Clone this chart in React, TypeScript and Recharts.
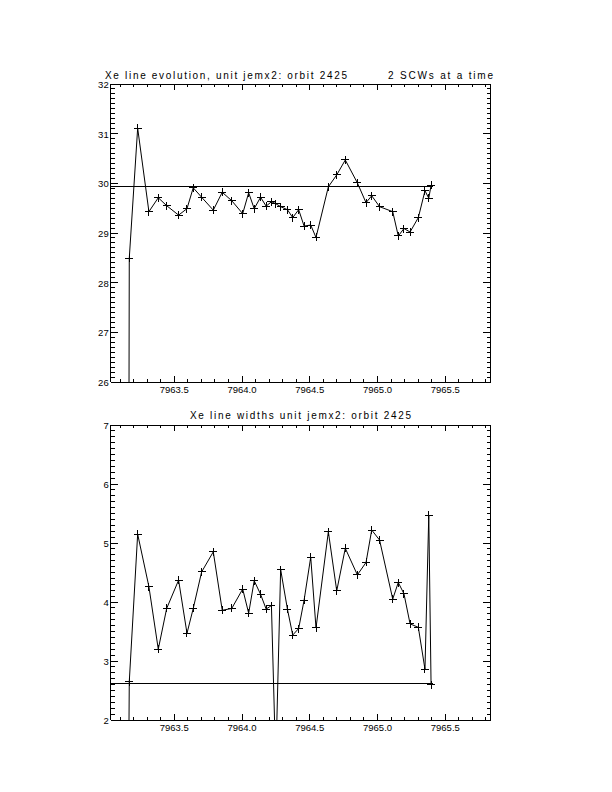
import { Line, LineChart, ReferenceLine, XAxis, YAxis } from 'recharts'

// observation time (IJD) of each pair of science windows
const times = [
  7963.162, 7963.168, 7963.23, 7963.313, 7963.382, 7963.444, 7963.532, 7963.594, 7963.64, 7963.702,
  7963.788, 7963.854, 7963.924, 7964.005, 7964.049, 7964.09, 7964.137, 7964.178, 7964.217, 7964.249,
  7964.285, 7964.335, 7964.374, 7964.418, 7964.458, 7964.507, 7964.546, 7964.637, 7964.699, 7964.762,
  7964.851, 7964.915, 7964.957, 7965.015, 7965.112, 7965.153, 7965.195, 7965.24, 7965.301, 7965.35,
  7965.378, 7965.395,
]

// Xe line position (channel)
const energies = [
  20.0, 28.49, 31.11, 29.43, 29.71, 29.55, 29.36, 29.49, 29.91, 29.72,
  29.46, 29.82, 29.65, 29.39, 29.81, 29.49, 29.72, 29.54, 29.63, 29.59,
  29.53, 29.47, 29.31, 29.47, 29.14, 29.16, 28.91, 29.93, 30.17, 30.47,
  30.01, 29.61, 29.75, 29.53, 29.43, 28.94, 29.09, 29.02, 29.31, 29.85,
  29.7, 29.96,
]

// Xe line width
const widths = [
  0.5, 2.65, 5.15, 4.26, 3.2, 3.89, 4.37, 3.47, 3.89, 4.51,
  4.85, 3.86, 3.89, 4.22, 3.81, 4.36, 4.13, 3.88, 3.94, 1.24,
  4.55, 3.88, 3.44, 3.55, 4.03, 4.76, 3.56, 5.19, 4.19, 4.91,
  4.46, 4.67, 5.22, 5.05, 4.05, 4.33, 4.14, 3.63, 3.57, 2.86,
  5.47, 2.6,
]

const meanEnergy = 29.94
const meanWidth = 2.615
const meanEnd = 7965.41

const xDomain: [number, number] = [7963.031, 7965.835]
const xMajor = [7963.5, 7964.0, 7964.5, 7965.0, 7965.5]
const energyMajor = [26, 27, 28, 29, 30, 31, 32]
const widthMajor = [2, 3, 4, 5, 6, 7]

const topTitle = 'Xe line evolution, unit jemx2: orbit 2425'
const topNote = '2 SCWs at a time'
const bottomTitle = 'Xe line widths unit jemx2: orbit 2425'

const data = times.map((t, i) => ({ t, energy: energies[i], width: widths[i] }))

const FONT = '"Liberation Sans", Arial, sans-serif'
// axes need a size of at least 1px or recharts skips them
const AXIS = 1

function steps(from: number, to: number, step: number) {
  const n = Math.round((to - from) / step)
  return Array.from({ length: n + 1 }, (_, i) => Number((from + i * step).toFixed(4)))
}

const isMajor = (v: number, majors: number[]) => majors.some((m) => Math.abs(m - v) < 1e-6)

type Side = 'bottom' | 'top' | 'left' | 'right'

function makeTick(side: Side, majors: number[], majorLen: number, minorLen: number, format?: (v: number) => string) {
  return (props: any) => {
    const { x, y, payload, index } = props
    const v = payload.value as number
    const major = isMajor(v, majors)
    const len = major ? majorLen : minorLen
    let x2 = x
    let y2 = y
    if (side === 'bottom') y2 = y - len
    if (side === 'top') y2 = y + len
    if (side === 'left') x2 = x + len
    if (side === 'right') x2 = x - len
    return (
      <g key={`${side}-${index}`}>
        <line x1={x} y1={y} x2={x2} y2={y2} stroke="#000" strokeWidth={1} shapeRendering="crispEdges" />
        {format && major && side === 'bottom' && (
          <text x={x} y={y + 10.5} textAnchor="middle" fontSize={9.5} fontFamily={FONT} fill="#000">
            {format(v)}
          </text>
        )}
        {format && major && side === 'left' && (
          <text x={x - 2} y={y + 4} textAnchor="end" fontSize={9.5} fontFamily={FONT} fill="#000">
            {format(v)}
          </text>
        )}
      </g>
    )
  }
}

type PanelProps = {
  top: number
  plotTop: number
  plotBottom: number
  dataKey: 'energy' | 'width'
  yDomain: [number, number]
  yMajor: number[]
  mean: number
}

const PLOT_LEFT = 110.7
const PLOT_RIGHT = 490.7
const PANEL_H = 396

function Panel({ top, plotTop, plotBottom, dataKey, yDomain, yMajor, mean }: PanelProps) {
  const xTicks = steps(7963.1, 7965.8, 0.1)
  const yTicks = steps(yDomain[0], yDomain[1], 0.1)
  const axisLine = { stroke: '#000', strokeWidth: 1, shapeRendering: 'crispEdges' }
  const margin = {
    top: plotTop - top - AXIS,
    bottom: top + PANEL_H - plotBottom - AXIS,
    left: PLOT_LEFT - AXIS,
    right: 612 - PLOT_RIGHT - AXIS,
  }
  return (
    <div style={{ position: 'absolute', left: 0, top }}>
      <LineChart width={612} height={PANEL_H} data={data} margin={margin}>
        <XAxis
          xAxisId="b"
          orientation="bottom"
          type="number"
          dataKey="t"
          domain={xDomain}
          allowDataOverflow
          ticks={xTicks}
          interval={0}
          height={AXIS}
          tickSize={0}
          tickMargin={0}
          tickLine={false}
          axisLine={axisLine}
          tick={makeTick('bottom', xMajor, 6, 3, (v) => v.toFixed(1))}
        />
        <XAxis
          xAxisId="t"
          orientation="top"
          type="number"
          dataKey="t"
          domain={xDomain}
          allowDataOverflow
          ticks={xTicks}
          interval={0}
          height={AXIS}
          tickSize={0}
          tickMargin={0}
          tickLine={false}
          axisLine={axisLine}
          tick={makeTick('top', xMajor, 6, 3)}
        />
        <YAxis
          yAxisId="l"
          orientation="left"
          type="number"
          domain={yDomain}
          allowDataOverflow
          ticks={yTicks}
          interval={0}
          width={AXIS}
          tickSize={0}
          tickMargin={0}
          tickLine={false}
          axisLine={axisLine}
          tick={makeTick('left', yMajor, 7.5, 3.8, (v) => String(v))}
        />
        <YAxis
          yAxisId="r"
          orientation="right"
          type="number"
          domain={yDomain}
          allowDataOverflow
          ticks={yTicks}
          interval={0}
          width={AXIS}
          tickSize={0}
          tickMargin={0}
          tickLine={false}
          axisLine={axisLine}
          tick={makeTick('right', yMajor, 7.5, 3.8)}
        />
        <ReferenceLine
          xAxisId="b"
          yAxisId="l"
          segment={[
            { x: xDomain[0], y: mean },
            { x: meanEnd, y: mean },
          ]}
          stroke="#000"
          strokeWidth={1}
          shapeRendering="crispEdges"
        />
        <Line
          xAxisId="b"
          yAxisId="l"
          type="linear"
          dataKey={dataKey}
          stroke="#000"
          strokeWidth={1}
          activeDot={false}
          isAnimationActive={false}
          dot={(p: any) => {
            const v = p.payload[dataKey]
            if (v < yDomain[0] || v > yDomain[1]) return <g key={p.index} />
            return (
              <path
                key={p.index}
                d={`M${p.cx - 4},${p.cy}H${p.cx + 4}M${p.cx},${p.cy - 4}V${p.cy + 4}`}
                stroke="#000"
                strokeWidth={1}
                fill="none"
                shapeRendering="crispEdges"
              />
            )
          }}
        />
      </LineChart>
    </div>
  )
}

export default function App() {
  return (
    <div style={{ position: 'absolute', left: 0, top: 0, width: 612, height: 792, background: '#fff' }}>
      <Panel top={0} plotTop={84} plotBottom={382} dataKey="energy" yDomain={[26, 32]} yMajor={energyMajor} mean={meanEnergy} />
      <Panel top={396} plotTop={425} plotBottom={720} dataKey="width" yDomain={[2, 7]} yMajor={widthMajor} mean={meanWidth} />
      <svg width={612} height={792} style={{ position: 'absolute', left: 0, top: 0, pointerEvents: 'none' }}>
        <g fontFamily={FONT} fontSize={10} fill="#000">
          <text x={105} y={79} textLength={242} lengthAdjust="spacing">
            {topTitle}
          </text>
          <text x={388} y={79} textLength={105} lengthAdjust="spacing">
            {topNote}
          </text>
          <text x={190} y={419} textLength={221} lengthAdjust="spacing">
            {bottomTitle}
          </text>
        </g>
      </svg>
    </div>
  )
}
